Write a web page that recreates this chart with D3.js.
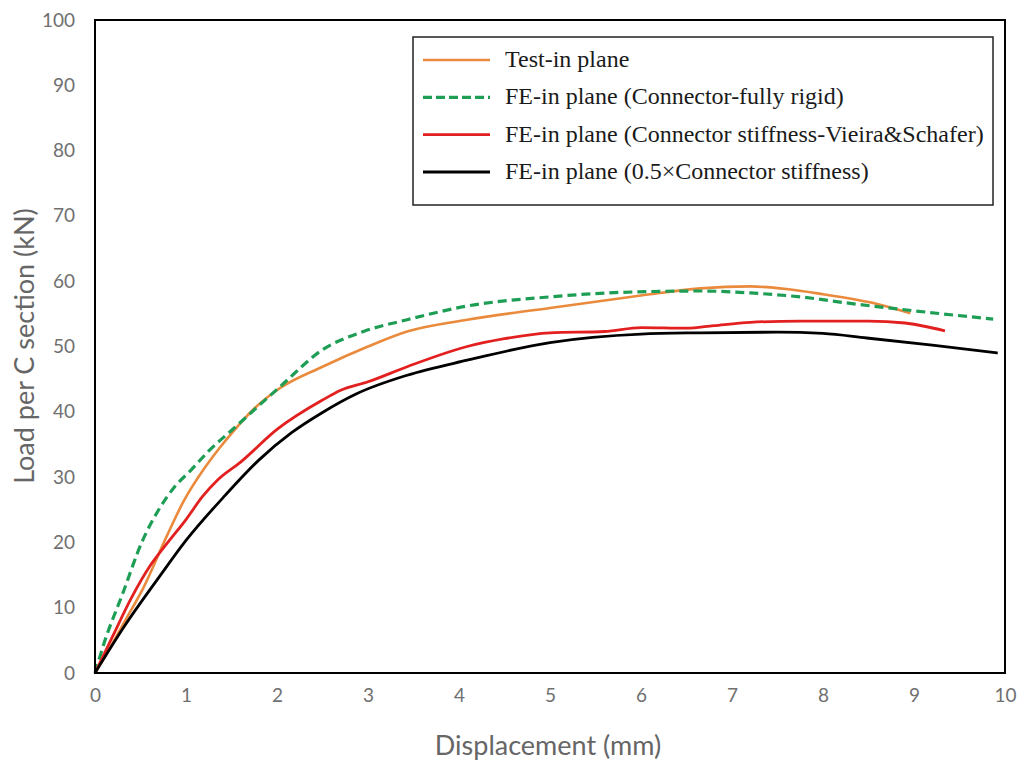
<!DOCTYPE html>
<html>
<head>
<meta charset="utf-8">
<script src="https://cdn.jsdelivr.net/npm/d3@7"></script>
<style>
  html, body { margin: 0; padding: 0; background: #fff; }
  svg { display: block; }
</style>
</head>
<body>
<svg id="chart" width="1021" height="767"></svg>
<script>
// ---- data ----
const xTicks = [0, 1, 2, 3, 4, 5, 6, 7, 8, 9, 10];
const yTicks = [0, 10, 20, 30, 40, 50, 60, 70, 80, 90, 100];

const seriesNames = [
  "Test-in plane",
  "FE-in plane (Connector-fully rigid)",
  "FE-in plane (Connector stiffness-Vieira&Schafer)",
  "FE-in plane (0.5\u00d7Connector stiffness)"
];

const testX = [0, 0.1, 0.33, 0.53, 0.79, 0.97, 1.2, 1.36, 1.52, 1.75, 2.03, 2.5, 3.0, 3.43, 4.09, 5.0, 6.0, 6.65, 7.2, 7.6, 8.0, 8.5, 8.96];
const testY = [0, 2.3, 8.0, 13.0, 21.0, 26.2, 31.3, 34.3, 37.0, 40.5, 43.6, 46.9, 50.0, 52.3, 54.1, 55.9, 57.8, 58.9, 59.2, 58.8, 58.0, 56.8, 55.1];

const rigidX = [0, 0.11, 0.3, 0.52, 0.7, 0.88, 1.05, 1.25, 1.52, 2.03, 2.5, 2.95, 3.43, 4.09, 5.0, 5.8, 6.65, 7.2, 7.75, 8.3, 8.85, 9.87];
const rigidY = [0, 5.0, 12.0, 20.2, 25.0, 28.6, 31.0, 34.0, 37.4, 43.8, 49.5, 52.3, 54.1, 56.2, 57.6, 58.3, 58.5, 58.2, 57.6, 56.6, 55.7, 54.2];

const vsX = [0, 0.2, 0.4, 0.6, 0.8, 1.0, 1.18, 1.35, 1.6, 2.0, 2.5, 2.7, 3.0, 3.43, 4.09, 4.5, 5.0, 5.6, 6.0, 6.5, 6.8, 7.2, 7.75, 8.5, 8.9, 9.34];
const vsY = [0, 5.8, 11.5, 16.3, 20.0, 23.5, 27.0, 29.6, 32.3, 37.3, 41.8, 43.3, 44.6, 46.9, 50.0, 51.2, 52.1, 52.3, 52.9, 52.8, 53.2, 53.7, 53.9, 53.9, 53.6, 52.4];

const halfX = [0, 0.33, 0.7, 1.0, 1.43, 1.8, 2.16, 2.5, 2.88, 3.43, 4.09, 5.0, 6.0, 6.65, 7.5, 8.0, 8.48, 9.2, 9.92];
const halfY = [0, 7.3, 14.6, 20.3, 27.2, 32.6, 36.8, 39.9, 42.8, 45.6, 47.9, 50.6, 51.9, 52.1, 52.2, 52.0, 51.3, 50.2, 49.0];

// ---- layout ----
const svg = d3.select("#chart");
const L = 95, R = 1005, T = 20, B = 673;

const x = d3.scaleLinear().domain([0, 10]).range([L, R]);
const y = d3.scaleLinear().domain([0, 100]).range([B, T]);

const series = [
  { name: seriesNames[0], xs: testX, ys: testY, color: "#EA8A3C", width: 2.6, dash: null },
  { name: seriesNames[1], xs: rigidX, ys: rigidY, color: "#1E9E55", width: 3.2, dash: "9,5" },
  { name: seriesNames[2], xs: vsX, ys: vsY, color: "#E2201F", width: 2.8, dash: null },
  { name: seriesNames[3], xs: halfX, ys: halfY, color: "#000000", width: 2.8, dash: null }
];

const tickFont = "Lato, 'Open Sans', sans-serif";
const tickColor = "#707070";

// axes (labels only, no tick marks)
const xAxis = d3.axisBottom(x).tickValues(xTicks).tickSize(0).tickPadding(16).tickFormat(d3.format("d"));
const yAxis = d3.axisLeft(y).tickValues(yTicks).tickSize(0).tickPadding(20).tickFormat(d3.format("d"));

const gx = svg.append("g").attr("transform", `translate(0,${B})`).call(xAxis);
const gy = svg.append("g").attr("transform", `translate(${L},0)`).call(yAxis);
[gx, gy].forEach(g => {
  g.select(".domain").remove();
  g.selectAll("text")
    .attr("font-family", tickFont)
    .attr("font-size", 19)
    .attr("fill", tickColor);
});

// curves
const line = d3.line().x(d => x(d[0])).y(d => y(d[1])).curve(d3.curveMonotoneX);
const plot = svg.append("g");
series.forEach(s => {
  const pts = s.xs.map((v, i) => [v, s.ys[i]]);
  plot.append("path")
    .datum(pts)
    .attr("d", line)
    .attr("fill", "none")
    .attr("stroke", s.color)
    .attr("stroke-width", s.width)
    .attr("stroke-linejoin", "round")
    .attr("stroke-dasharray", s.dash);
});

// frame
svg.append("rect")
  .attr("x", L).attr("y", T)
  .attr("width", R - L).attr("height", B - T)
  .attr("fill", "none")
  .attr("stroke", "#000")
  .attr("stroke-width", 2);

// axis titles
svg.append("text")
  .attr("x", 548).attr("y", 755)
  .attr("text-anchor", "middle")
  .attr("font-family", tickFont)
  .attr("font-size", 27)
  .attr("fill", "#666")
  .text("Displacement (mm)");

svg.append("text")
  .attr("transform", `translate(34,346) rotate(-90)`)
  .attr("text-anchor", "middle")
  .attr("font-family", tickFont)
  .attr("font-size", 27)
  .attr("fill", "#666")
  .text("Load per C section (kN)");

// legend
const lg = svg.append("g");
lg.append("rect")
  .attr("x", 413).attr("y", 37)
  .attr("width", 580).attr("height", 168)
  .attr("fill", "#fff")
  .attr("stroke", "#222")
  .attr("stroke-width", 1.5);

const rowY = d3.scalePoint().domain(seriesNames).range([60, 172]);
series.forEach(s => {
  const yy = rowY(s.name);
  lg.append("line")
    .attr("x1", 423).attr("x2", 490)
    .attr("y1", yy).attr("y2", yy)
    .attr("stroke", s.color)
    .attr("stroke-width", s.width)
    .attr("stroke-dasharray", s.dash ? "9,4" : null);
  lg.append("text")
    .attr("x", 505).attr("y", yy + 7)
    .attr("font-family", "'Liberation Serif', 'Times New Roman', serif")
    .attr("font-size", 24)
    .attr("fill", "#1a1a1a")
    .text(s.name);
});
</script>
</body>
</html>
